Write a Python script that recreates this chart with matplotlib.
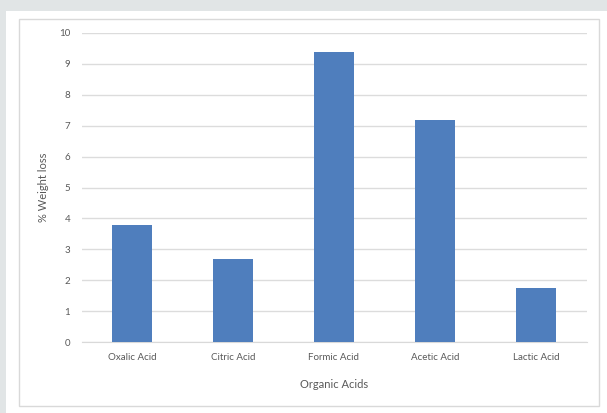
import matplotlib.pyplot as plt
from matplotlib.patches import Rectangle

acids = ["Oxalic Acid", "Citric Acid", "Formic Acid", "Acetic Acid", "Lactic Acid"]
weight_loss = [3.8, 2.7, 9.4, 7.2, 1.75]
y_ticks = list(range(0, 11))

W, H = 607, 413
fig = plt.figure(figsize=(W / 100, H / 100), dpi=100, facecolor="#e1e5e6")
plt.rcParams["font.family"] = ["Lato", "DejaVu Sans"]

# white page and the thin chart frame (pixel coords -> figure fraction)
def px_rect(x0, y0, x1, y1, **kw):
    r = Rectangle((x0 / W, 1 - y1 / H), (x1 - x0) / W, (y1 - y0) / H,
                  transform=fig.transFigure, **kw)
    fig.patches.append(r)

px_rect(6, 11, W + 2, H + 2, facecolor="white", edgecolor="none", zorder=-2)
px_rect(19, 19, 599, 406, facecolor="none", edgecolor="#d9d9d9", lw=1.0, zorder=-1)

ax = fig.add_axes([81.5 / W, (H - 342) / H, 505 / W, 309 / H])
ax.set_facecolor("none")

x = range(len(acids))
ax.bar(x, weight_loss, width=0.4, color="#4f7ebd", zorder=3)

ax.set_xlim(-0.5, len(acids) - 0.5)
ax.set_ylim(0, 10)
ax.set_yticks(y_ticks)
ax.set_xticks(list(x))
ax.set_xticklabels(acids)
ax.grid(axis="y", color="#dcdcdc", lw=1.0, zorder=0)
for s in ["top", "right", "left"]:
    ax.spines[s].set_visible(False)
ax.spines["bottom"].set_color("#d9d9d9")
ax.tick_params(axis="both", length=0, labelsize=7, labelcolor="#595959")
ax.tick_params(axis="y", pad=8)
ax.tick_params(axis="x", pad=8)

ax.set_xlabel("Organic Acids", fontsize=8, color="#595959", labelpad=12)
ax.set_ylabel("% Weight loss", fontsize=8, color="#595959", labelpad=7)

fig.savefig("out.png", dpi=100, facecolor=fig.get_facecolor())
